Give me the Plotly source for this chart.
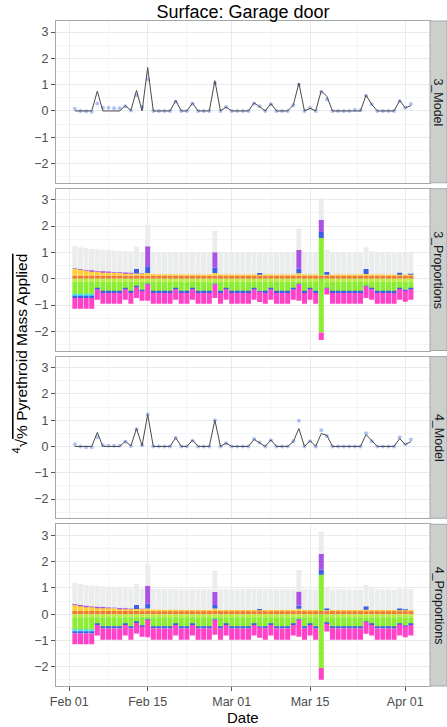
import plotly.graph_objects as go
import pandas as pd

# ---------------- data ----------------
dates = pd.date_range("2012-02-02", periods=61, freq="D")

tick_dates = ["2012-02-01", "2012-02-15", "2012-03-01", "2012-03-15", "2012-04-01"]
tick_labels = ["Feb 01", "Feb 15", "Mar 01", "Mar 15", "Apr 01"]
minor_dates = ["2012-02-08", "2012-02-22", "2012-03-08", "2012-03-23 12:00"]
y_ticks = [-2, -1, 0, 1, 2, 3]
y_tick_labels = ["\u22122", "\u22121", "0", "1", "2", "3"]
y_minor = [-2.5, -1.5, -0.5, 0.5, 1.5, 2.5]
strip_labels = ["3_Model", "3_Proportions", "4_Model", "4_Proportions"]

model3_line = [0, 0, 0, 0, 0.75, 0, 0, 0, 0, 0.2,
               0.02, 0.78, 0, 1.65, 0, 0, 0, 0, 0.4, 0,
               0, 0.3, 0, 0, 0, 1.15, 0, 0.15, 0, 0,
               0, 0, 0.31, 0.15, 0, 0.28, 0, 0, 0, 0.22,
               1.06, 0, 0.1, 0, 0.77, 0.55, 0, 0, 0, 0,
               0, 0, 0.6, 0.25, 0, 0, 0, 0, 0.4, 0.12,
               0.2]
model3_obs = [0.08, 0, -0.01, -0.03, 0.28, 0.12, 0.12, 0.1, 0.1, 0.18,
              0.02, 0.6, 0.15, 1.2, 0, 0, 0, 0, 0.35, 0,
              0, 0.28, 0, 0, 0, 1.05, 0, 0.15, 0, 0,
              0, 0, 0.28, 0.18, 0, 0.25, 0, 0, 0, 0.22,
              1.0, 0, 0.12, 0, 0.72, 0.44, 0, 0, 0, 0,
              0.05, 0.03, 0.58, 0.25, 0, 0, 0, 0, 0.38, 0.12,
              0.26]
model4_line = [0, 0, 0, 0, 0.53, 0, 0, 0, 0, 0.2,
               0.02, 0.68, 0.03, 1.22, 0, 0, 0, 0, 0.33, 0,
               0, 0.24, 0, 0, 0, 1.0, 0, 0.13, 0, 0,
               0, 0, 0.27, 0.15, 0, 0.25, 0, 0, 0, 0.18,
               0.68, 0, 0.22, 0, 0.49, 0.42, 0, 0, 0, 0,
               0, 0, 0.45, 0.22, 0, 0, 0, 0, 0.3, 0.07,
               0.18]
model4_obs = [0.08, 0, -0.03, -0.03, 0.35, 0.05, 0.03, 0.03, 0.03, 0.18,
              0.02, 0.65, 0.05, 1.22, 0, 0, 0, 0, 0.33, 0,
              0, 0.22, 0, 0, 0, 1.0, 0, 0.12, 0, 0,
              0, 0, 0.28, 0.15, 0, 0.24, 0, 0, 0, 0.2,
              0.98, 0, 0.2, 0, 0.62, 0.4, 0, 0, 0, 0,
              0, 0, 0.5, 0.2, 0, 0, 0, 0, 0.35, 0.08,
              0.26]

# ---- 3_Proportions (segment heights) ----
orange3 = [0.12, 0.12, 0.12, 0.12, 0.12, 0.12, 0.12, 0.12, 0.12, 0.12,
           0.12, 0.12, 0.12, 0.12, 0.12, 0.12, 0.12, 0.12, 0.12, 0.12,
           0.12, 0.12, 0.12, 0.12, 0.12, 0.12, 0.12, 0.12, 0.12, 0.12,
           0.12, 0.12, 0.12, 0.12, 0.12, 0.12, 0.12, 0.12, 0.12, 0.12,
           0.12, 0.12, 0.12, 0.12, 0.12, 0.12, 0.12, 0.12, 0.12, 0.12,
           0.12, 0.12, 0.12, 0.12, 0.12, 0.12, 0.12, 0.12, 0.12, 0.12,
           0.12]
yellow3 = [0.26, 0.23, 0.2, 0.18, 0.16, 0.14, 0.13, 0.12, 0.11, 0.1,
           0.09, 0.08, 0.07, 0.1, 0.06, 0.05, 0.05, 0.05, 0.05, 0.04,
           0.04, 0.04, 0.04, 0.04, 0.04, 0.1, 0.04, 0.04, 0.04, 0.04,
           0.04, 0.04, 0.04, 0.06, 0.04, 0.04, 0.04, 0.04, 0.04, 0.04,
           0.09, 0.04, 0.04, 0.04, 0, 0.03, 0.04, 0.04, 0.04, 0.04,
           0.04, 0.04, 0.06, 0.05, 0.04, 0.04, 0.04, 0.04, 0.06, 0.04,
           0.04]
greenpos3 = [0, 0, 0, 0, 0, 0, 0, 0, 0, 0,
             0, 0, 0, 0, 0, 0, 0, 0, 0, 0,
             0, 0, 0, 0, 0, 0, 0, 0, 0, 0,
             0, 0, 0, 0, 0, 0, 0, 0, 0, 0,
             0, 0, 0, 0, 1.43, 0, 0, 0, 0, 0,
             0, 0, 0, 0, 0, 0, 0, 0, 0, 0,
             0]
bluepos3 = [0, 0, 0, 0, 0, 0, 0, 0, 0, 0,
            0, 0.18, 0, 0.25, 0, 0, 0, 0, 0, 0,
            0, 0, 0, 0, 0, 0.21, 0, 0, 0, 0,
            0, 0, 0, 0.04, 0, 0, 0, 0, 0, 0,
            0.17, 0, 0, 0, 0.23, 0.1, 0, 0, 0, 0,
            0, 0, 0.19, 0, 0, 0, 0, 0, 0.06, 0,
            0.03]
purple3 = [0.02, 0.02, 0.02, 0.02, 0.02, 0.02, 0.02, 0.02, 0.02, 0.02,
           0.02, 0, 0.02, 0.76, 0, 0, 0, 0, 0, 0,
           0, 0, 0, 0, 0, 0.58, 0, 0, 0, 0,
           0, 0, 0, 0, 0, 0, 0, 0, 0, 0,
           0.71, 0, 0, 0, 0.45, 0, 0, 0, 0, 0,
           0, 0, 0, 0, 0, 0, 0, 0, 0, 0,
           0]
graytop3 = [1.25, 1.2, 1.17, 1.14, 1.12, 1.1, 1.08, 1.07, 1.05, 1.04,
            1.03, 1.22, 1.01, 2.05, 1.01, 1.0, 1.0, 1.01, 1.0, 1.0,
            1.0, 1.0, 0.99, 0.99, 0.99, 1.83, 0.99, 1.0, 0.99, 0.99,
            0.99, 0.99, 1.0, 1.0, 0.99, 0.99, 0.99, 0.99, 0.98, 0.98,
            1.91, 0.98, 0.98, 0.98, 3.07, 1.1, 0.98, 0.98, 0.98, 0.97,
            0.97, 0.97, 1.2, 1.04, 0.98, 0.98, 0.97, 0.97, 1.02, 0.99,
            0.99]
lime_neg = [0.12, 0.12, 0.12, 0.12, 0.12, 0.12, 0.12, 0.12, 0.12, 0.12,
            0.12, 0.12, 0.12, 0.1, 0.12, 0.12, 0.12, 0.12, 0.12, 0.12,
            0.12, 0.12, 0.12, 0.12, 0.12, 0.1, 0.12, 0.12, 0.12, 0.12,
            0.12, 0.12, 0.12, 0.12, 0.12, 0.12, 0.12, 0.12, 0.12, 0.12,
            0.1, 0.12, 0.12, 0.12, 0, 0.12, 0.12, 0.12, 0.12, 0.12,
            0.12, 0.12, 0.12, 0.12, 0.12, 0.12, 0.12, 0.12, 0.12, 0.12,
            0.12]
green3 = [0.48, 0.48, 0.48, 0.48, 0.26, 0.36, 0.36, 0.36, 0.36, 0.26,
          0.36, 0.18, 0.32, 0.1, 0.36, 0.36, 0.36, 0.36, 0.26, 0.36,
          0.36, 0.26, 0.36, 0.36, 0.36, 0.1, 0.36, 0.26, 0.36, 0.36,
          0.36, 0.36, 0.26, 0.34, 0.36, 0.26, 0.36, 0.36, 0.36, 0.26,
          0.1, 0.36, 0.26, 0.36, 2.05, 0.23, 0.36, 0.36, 0.36, 0.36,
          0.36, 0.36, 0.16, 0.26, 0.36, 0.36, 0.36, 0.36, 0.24, 0.3,
          0.26]
cyan_neg = [0.06, 0.06, 0.06, 0.06, 0, 0, 0, 0, 0, 0,
            0, 0, 0, 0, 0, 0, 0, 0, 0, 0,
            0, 0, 0, 0, 0, 0, 0, 0, 0, 0,
            0, 0, 0, 0, 0, 0, 0, 0, 0, 0,
            0, 0, 0, 0, 0, 0, 0, 0, 0, 0,
            0, 0, 0, 0, 0, 0, 0, 0, 0, 0,
            0]
blue_neg = [0.07, 0.07, 0.07, 0.07, 0.03, 0.06, 0.06, 0.06, 0.06, 0.03,
            0.06, 0.03, 0.04, 0.02, 0.06, 0.06, 0.06, 0.06, 0.03, 0.06,
            0.06, 0.03, 0.06, 0.06, 0.06, 0.02, 0.06, 0.03, 0.06, 0.06,
            0.06, 0.06, 0.03, 0.04, 0.06, 0.03, 0.06, 0.06, 0.06, 0.03,
            0.02, 0.06, 0.03, 0.06, 0, 0.02, 0.06, 0.06, 0.06, 0.06,
            0.06, 0.06, 0.02, 0.03, 0.06, 0.06, 0.06, 0.06, 0.03, 0.04,
            0.03]
magenta3 = [0.41, 0.41, 0.41, 0.41, 0.39, 0.41, 0.41, 0.41, 0.41, 0.39,
            0.41, 0.4, 0.36, 0.62, 0.41, 0.41, 0.41, 0.41, 0.39, 0.41,
            0.41, 0.39, 0.41, 0.41, 0.41, 0.51, 0.41, 0.39, 0.41, 0.41,
            0.41, 0.41, 0.39, 0.39, 0.41, 0.39, 0.41, 0.41, 0.41, 0.39,
            0.62, 0.41, 0.39, 0.41, 0.28, 0.23, 0.41, 0.41, 0.41, 0.41,
            0.41, 0.41, 0.43, 0.39, 0.41, 0.41, 0.41, 0.41, 0.41, 0.42,
            0.39]

# ---- 4_Proportions (segment heights) ----
orange4 = orange3
yellow4 = [0.24, 0.21, 0.18, 0.16, 0.14, 0.13, 0.12, 0.11, 0.1, 0.09,
           0.08, 0.08, 0.07, 0.1, 0.06, 0.05, 0.05, 0.05, 0.05, 0.04,
           0.04, 0.04, 0.04, 0.04, 0.04, 0.1, 0.04, 0.04, 0.04, 0.04,
           0.04, 0.04, 0.04, 0.05, 0.04, 0.04, 0.04, 0.04, 0.04, 0.04,
           0.09, 0.04, 0.04, 0.04, 0, 0.03, 0.04, 0.04, 0.04, 0.04,
           0.04, 0.04, 0.05, 0.04, 0.04, 0.04, 0.04, 0.04, 0.05, 0.04,
           0.04]
greenpos4 = [0, 0, 0, 0, 0, 0, 0, 0, 0, 0,
             0, 0, 0, 0, 0, 0, 0, 0, 0, 0,
             0, 0, 0, 0, 0, 0, 0, 0, 0, 0,
             0, 0, 0, 0, 0, 0, 0, 0, 0, 0,
             0, 0, 0, 0, 1.38, 0, 0, 0, 0, 0,
             0, 0, 0, 0, 0, 0, 0, 0, 0, 0,
             0]
bluepos4 = [0, 0, 0, 0, 0, 0, 0, 0, 0, 0,
            0, 0.15, 0, 0.18, 0, 0, 0, 0, 0, 0,
            0, 0, 0, 0, 0, 0.13, 0, 0, 0, 0,
            0, 0, 0, 0.03, 0, 0, 0, 0, 0, 0,
            0.12, 0, 0, 0, 0.19, 0.08, 0, 0, 0, 0,
            0, 0, 0.13, 0, 0, 0, 0, 0, 0.06, 0.03,
            0]
purple4 = [0.02, 0.02, 0.02, 0.02, 0.02, 0.02, 0.02, 0.02, 0.02, 0.02,
           0.02, 0, 0.02, 0.68, 0, 0, 0, 0, 0, 0,
           0, 0, 0, 0, 0, 0.49, 0, 0, 0, 0,
           0, 0, 0, 0, 0, 0, 0, 0, 0, 0,
           0.53, 0, 0, 0, 0.6, 0, 0, 0, 0, 0,
           0, 0, 0, 0, 0, 0, 0, 0, 0, 0,
           0]
graytop4 = [1.2, 1.15, 1.11, 1.09, 1.07, 1.05, 1.03, 1.02, 1.0, 0.99,
            0.98, 1.15, 0.97, 1.9, 0.96, 0.96, 0.96, 0.96, 0.95, 0.95,
            0.95, 0.95, 0.95, 0.95, 0.95, 1.65, 0.95, 0.95, 0.95, 0.95,
            0.95, 0.96, 0.96, 0.96, 0.95, 0.95, 0.95, 0.95, 0.95, 0.95,
            1.68, 0.95, 0.95, 0.95, 3.14, 1.01, 0.95, 0.95, 0.95, 0.94,
            0.94, 0.94, 1.11, 1.0, 0.95, 0.95, 0.94, 0.94, 0.98, 0.96,
            0.96]
green4 = [0.48, 0.48, 0.48, 0.48, 0.26, 0.36, 0.36, 0.36, 0.36, 0.26,
          0.36, 0.18, 0.32, 0.1, 0.36, 0.36, 0.36, 0.36, 0.26, 0.36,
          0.36, 0.26, 0.36, 0.36, 0.36, 0.1, 0.36, 0.26, 0.36, 0.36,
          0.36, 0.36, 0.26, 0.34, 0.36, 0.26, 0.36, 0.36, 0.36, 0.26,
          0.1, 0.36, 0.26, 0.36, 2.05, 0.22, 0.36, 0.36, 0.36, 0.36,
          0.36, 0.36, 0.16, 0.26, 0.36, 0.36, 0.36, 0.36, 0.24, 0.3,
          0.26]
magenta4 = [0.41, 0.41, 0.41, 0.41, 0.4, 0.43, 0.43, 0.43, 0.43, 0.4,
            0.43, 0.4, 0.38, 0.66, 0.43, 0.43, 0.43, 0.43, 0.4, 0.43,
            0.43, 0.4, 0.43, 0.43, 0.43, 0.56, 0.43, 0.4, 0.43, 0.43,
            0.43, 0.43, 0.4, 0.4, 0.43, 0.4, 0.43, 0.43, 0.43, 0.4,
            0.64, 0.43, 0.4, 0.43, 0.44, 0.3, 0.43, 0.43, 0.43, 0.43,
            0.43, 0.43, 0.44, 0.4, 0.43, 0.43, 0.43, 0.43, 0.42, 0.42,
            0.4]

# ---------------- styling ----------------
FONT = "Liberation Sans, Arial, Helvetica, sans-serif"
C_ORANGE = "#F27A30"
C_YELLOW = "#FFCF3A"
C_GREEN = "#8CEE34"
C_LIME = "#BDEE46"
C_CYAN = "#48E2F0"
C_BLUE = "#3D5FE6"
C_PURPLE = "#A653E6"
C_MAGENTA = "#FF42C8"
C_GRAY = "#EBEDED"
GRID = "#E8EBEA"
GRID_MINOR = "#F4F5F5"
BORDER = "#A3AAA6"

W, H = 447, 727
ML, MR, MT, MB = 56, 17, 21, 41
PH = H - MT - MB
panel_h = 161.75
gap = 6.0
YR = [-2.73, 3.42]
XR = ["2012-01-29 15:00", "2012-04-05 10:00"]

fig = go.Figure()


def sfx(k):
    return "" if k == 0 else str(k + 1)


def add_model(k, obs, line):
    s = sfx(k)
    fig.add_trace(go.Scatter(x=dates, y=obs, mode="markers", xaxis="x" + s, yaxis="y" + s,
                             marker=dict(size=4, color="#9CB3F0", opacity=0.8),
                             showlegend=False))
    fig.add_trace(go.Scatter(x=dates, y=line, mode="lines", xaxis="x" + s, yaxis="y" + s,
                             line=dict(color="#4A4A4A", width=1), showlegend=False))


def add_props(k, orange, yellow, greenpos, bluepos, purple, graytop,
              lime, green, cyan, blue, magenta):
    s = sfx(k)
    below = [o + yl + g + b + p for o, yl, g, b, p in zip(orange, yellow, greenpos, bluepos, purple)]
    gray = [t - b for t, b in zip(graytop, below)]
    pos = [(orange, C_ORANGE), (yellow, C_YELLOW), (greenpos, C_GREEN),
           (bluepos, C_BLUE), (purple, C_PURPLE), (gray, C_GRAY)]
    neg = [(lime, C_LIME), (green, C_GREEN), (cyan, C_CYAN), (blue, C_BLUE), (magenta, C_MAGENTA)]
    for vals, col in pos:
        fig.add_trace(go.Bar(x=dates, y=vals, xaxis="x" + s, yaxis="y" + s,
                             marker=dict(color=col, line=dict(width=0)), showlegend=False))
    for vals, col in neg:
        fig.add_trace(go.Bar(x=dates, y=[-v for v in vals], xaxis="x" + s, yaxis="y" + s,
                             marker=dict(color=col, line=dict(width=0)), showlegend=False))


add_model(0, model3_obs, model3_line)
add_props(1, orange3, yellow3, greenpos3, bluepos3, purple3, graytop3,
          lime_neg, green3, cyan_neg, blue_neg, magenta3)
add_model(2, model4_obs, model4_line)
add_props(3, orange4, yellow4, greenpos4, bluepos4, purple4, graytop4,
          lime_neg, green4, cyan_neg, blue_neg, magenta4)

layout = dict(
    width=W, height=H,
    margin=dict(l=ML, r=MR, t=MT, b=MB, pad=0),
    paper_bgcolor="white", plot_bgcolor="white",
    barmode="relative", bargap=0.1,
    showlegend=False,
    font=dict(family=FONT, size=12, color="#4D4D4D"),
    title=dict(text="Surface: Garage door", x=0.5, xref="paper", xanchor="center",
               y=1 - 12 / H, yref="container", yanchor="middle",
               font=dict(family=FONT, size=18, color="black")),
)

shapes = []
annotations = []
for k in range(4):
    s = sfx(k)
    top_px = k * (panel_h + gap)
    bot_px = top_px + panel_h
    dom = [1 - bot_px / PH, 1 - top_px / PH]
    bottom = (k == 3)
    layout["xaxis" + s] = dict(
        domain=[0, 1], anchor="y" + s, type="date", range=XR,
        tickmode="array", tickvals=tick_dates, ticktext=tick_labels,
        showticklabels=bottom, ticks="outside" if bottom else "",
        ticklen=4, tickcolor="#555555",
        tickfont=dict(family=FONT, size=12.5, color="#4D4D4D"),
        showgrid=True, gridcolor=GRID, gridwidth=1,
        minor=dict(tickmode="array", tickvals=minor_dates, showgrid=True,
                   gridcolor=GRID_MINOR, gridwidth=1),
        showline=True, mirror=True, linecolor=BORDER, linewidth=1,
        zeroline=False,
    )
    if k > 0:
        layout["xaxis" + s]["matches"] = "x"
    layout["yaxis" + s] = dict(
        domain=dom, anchor="x" + s, range=YR,
        tickmode="array", tickvals=y_ticks, ticktext=y_tick_labels,
        ticks="outside", ticklen=4, tickcolor="#555555",
        tickfont=dict(family=FONT, size=12.5, color="#4D4D4D"),
        showgrid=True, gridcolor=GRID, gridwidth=1,
        minor=dict(tickmode="array", tickvals=y_minor, showgrid=True,
                   gridcolor=GRID_MINOR, gridwidth=1),
        showline=True, mirror=True, linecolor=BORDER, linewidth=1,
        zeroline=False,
    )
    x0 = 1.0
    x1 = 1.0 + MR / (W - ML - MR)
    shapes.append(dict(type="rect", xref="paper", yref="paper", x0=x0, x1=x1,
                       y0=dom[0], y1=dom[1], fillcolor="#CBD0CD",
                       line=dict(color=BORDER, width=1), layer="above"))
    annotations.append(dict(text=strip_labels[k], xref="paper", yref="paper",
                            x=(x0 + x1) / 2, y=(dom[0] + dom[1]) / 2,
                            showarrow=False, textangle=90,
                            font=dict(family=FONT, size=12.5, color="#1A1A1A"),
                            xanchor="center", yanchor="middle"))

annotations.append(dict(text="Date", xref="paper", yref="paper", x=0.5,
                        y=-(717 - (H - MB)) / PH, showarrow=False,
                        xanchor="center", yanchor="middle",
                        font=dict(family=FONT, size=15, color="black")))
annotations.append(dict(
    text="<sup>4</sup>\u221A<span style='text-decoration:overline'>% Pyrethroid Mass Applied</span>",
    xref="paper", yref="paper", x=(20 - ML) / (W - ML - MR), y=0.5,
    showarrow=False, textangle=-90, xanchor="center", yanchor="middle",
    font=dict(family=FONT, size=15.5, color="black")))

layout["shapes"] = shapes
layout["annotations"] = annotations
fig.update_layout(**layout)

fig.write_html("out.html")
